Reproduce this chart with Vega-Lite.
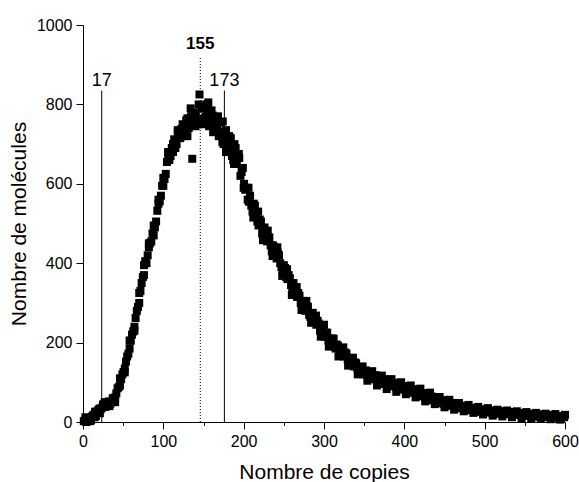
{
  "$schema": "https://vega.github.io/schema/vega-lite/v6.json",
  "width": 482,
  "height": 397,
  "autosize": {"type": "none"},
  "padding": {"left": 83, "top": 25, "right": 14, "bottom": 60},
  "background": "white",
  "config": {
    "view": {"stroke": null},
    "font": "Liberation Sans",
    "axis": {"grid": false, "domainColor": "black", "tickColor": "black", "labelColor": "black", "titleColor": "black", "labelFont": "Liberation Sans", "titleFont": "Liberation Sans", "labelFontSize": 16, "titleFontSize": 21, "titleFontWeight": "normal", "domainWidth": 1, "tickWidth": 1}
  },
  "datasets": {
    "pts": [
      {"c":1,"n":2},{"c":4,"n":0},{"c":7,"n":8},{"c":10,"n":5},{"c":13,"n":18},{"c":16,"n":15},{"c":19,"n":30},{"c":22,"n":32},{"c":25,"n":44},{"c":28,"n":38},
      {"c":31,"n":50},{"c":34,"n":46},{"c":37,"n":60},{"c":40,"n":62},{"c":43,"n":85},{"c":46,"n":92},{"c":49,"n":120},{"c":52,"n":135},{"c":55,"n":165},{"c":58,"n":185},
      {"c":61,"n":220},{"c":64,"n":240},{"c":67,"n":280},{"c":70,"n":300},{"c":73,"n":350},{"c":76,"n":395},{"c":79,"n":400},{"c":82,"n":440},{"c":85,"n":455},{"c":88,"n":495},
      {"c":91,"n":505},{"c":94,"n":550},{"c":97,"n":570},{"c":100,"n":615},{"c":103,"n":625},{"c":106,"n":675},{"c":109,"n":670},{"c":112,"n":700},{"c":115,"n":690},{"c":118,"n":730},
      {"c":121,"n":715},{"c":124,"n":750},{"c":127,"n":735},{"c":130,"n":765},{"c":133,"n":745},{"c":136,"n":663},{"c":137,"n":775},{"c":139,"n":770},{"c":142,"n":760},{"c":145,"n":825},
      {"c":148,"n":790},{"c":151,"n":765},{"c":154,"n":800},{"c":157,"n":745},{"c":160,"n":785},{"c":163,"n":740},{"c":166,"n":760},{"c":169,"n":720},{"c":172,"n":755},{"c":175,"n":700},
      {"c":178,"n":735},{"c":181,"n":680},{"c":184,"n":715},{"c":187,"n":660},{"c":190,"n":690},{"c":193,"n":670},{"c":196,"n":620},{"c":199,"n":640},{"c":202,"n":585},{"c":205,"n":560},
      {"c":208,"n":570},{"c":211,"n":530},{"c":214,"n":545},{"c":217,"n":505},{"c":220,"n":510},{"c":223,"n":475},{"c":226,"n":490},{"c":229,"n":455},{"c":232,"n":465},{"c":235,"n":430},
      {"c":238,"n":440},{"c":241,"n":412},{"c":244,"n":420},{"c":247,"n":390},{"c":250,"n":395},{"c":253,"n":365},{"c":256,"n":370},{"c":259,"n":345},{"c":262,"n":350},{"c":265,"n":320},
      {"c":268,"n":325},{"c":271,"n":300},{"c":274,"n":305},{"c":277,"n":280},{"c":280,"n":290},{"c":283,"n":265},{"c":286,"n":275},{"c":289,"n":250},{"c":292,"n":255},{"c":295,"n":230},
      {"c":298,"n":240},{"c":301,"n":215},{"c":304,"n":225},{"c":307,"n":200},{"c":310,"n":210},{"c":313,"n":190},{"c":316,"n":195},{"c":319,"n":175},{"c":322,"n":185},{"c":325,"n":165},
      {"c":328,"n":172},{"c":331,"n":150},{"c":334,"n":160},{"c":337,"n":140},{"c":340,"n":148},{"c":343,"n":128},{"c":346,"n":138},{"c":349,"n":120},{"c":352,"n":130},{"c":355,"n":114},
      {"c":358,"n":122},{"c":361,"n":108},{"c":364,"n":118},{"c":367,"n":102},{"c":370,"n":112},{"c":373,"n":96},{"c":376,"n":108},{"c":379,"n":92},{"c":382,"n":104},{"c":385,"n":90},
      {"c":388,"n":99},{"c":391,"n":85},{"c":394,"n":95},{"c":397,"n":82},{"c":400,"n":90},{"c":403,"n":78},{"c":406,"n":86},{"c":409,"n":74},{"c":412,"n":82},{"c":415,"n":70},
      {"c":418,"n":77},{"c":421,"n":65},{"c":424,"n":72},{"c":427,"n":60},{"c":430,"n":67},{"c":433,"n":55},{"c":436,"n":63},{"c":439,"n":52},{"c":442,"n":58},{"c":445,"n":47},
      {"c":448,"n":54},{"c":451,"n":44},{"c":454,"n":50},{"c":457,"n":41},{"c":460,"n":47},{"c":463,"n":38},{"c":466,"n":43},{"c":469,"n":35},{"c":472,"n":40},{"c":475,"n":33},
      {"c":478,"n":38},{"c":481,"n":30},{"c":484,"n":35},{"c":487,"n":28},{"c":490,"n":33},{"c":493,"n":26},{"c":496,"n":31},{"c":499,"n":25},{"c":502,"n":30},{"c":505,"n":24},
      {"c":508,"n":28},{"c":511,"n":22},{"c":514,"n":27},{"c":517,"n":21},{"c":520,"n":26},{"c":523,"n":20},{"c":526,"n":25},{"c":529,"n":20},{"c":532,"n":24},{"c":535,"n":19},
      {"c":538,"n":23},{"c":541,"n":18},{"c":544,"n":22},{"c":547,"n":17},{"c":550,"n":21},{"c":553,"n":16},{"c":556,"n":20},{"c":559,"n":15},{"c":562,"n":19},{"c":565,"n":14},
      {"c":568,"n":18},{"c":571,"n":13},{"c":574,"n":17},{"c":577,"n":13},{"c":580,"n":16},{"c":583,"n":12},{"c":586,"n":16},{"c":589,"n":12},{"c":592,"n":15},{"c":595,"n":11},{"c":598,"n":14},
      {"c":2.5,"n":4},{"c":5.5,"n":2},{"c":8.5,"n":10},{"c":11.5,"n":14},{"c":14.5,"n":12},{"c":17.5,"n":26},{"c":20.5,"n":34},{"c":23.5,"n":36},{"c":26.5,"n":45},{"c":29.5,"n":42},
      {"c":32.5,"n":52},{"c":35.5,"n":50},{"c":38.5,"n":58},{"c":41.5,"n":72},{"c":44.5,"n":88},{"c":47.5,"n":108},{"c":50.5,"n":126},{"c":53.5,"n":152},{"c":56.5,"n":172},{"c":59.5,"n":205},
      {"c":62.5,"n":228},{"c":65.5,"n":262},{"c":68.5,"n":290},{"c":71.5,"n":330},{"c":74.5,"n":365},{"c":77.5,"n":405},{"c":80.5,"n":420},{"c":83.5,"n":450},{"c":86.5,"n":475},{"c":89.5,"n":490},
      {"c":92.5,"n":532},{"c":95.5,"n":556},{"c":98.5,"n":595},{"c":101.5,"n":612},{"c":104.5,"n":655},{"c":107.5,"n":660},{"c":110.5,"n":690},{"c":113.5,"n":712},{"c":116.5,"n":700},{"c":119.5,"n":725},
      {"c":122.5,"n":738},{"c":125.5,"n":728},{"c":128.5,"n":760},{"c":131.5,"n":740},{"c":134.5,"n":770},{"c":137.5,"n":755},{"c":140.5,"n":780},{"c":143.5,"n":750},{"c":146.5,"n":760},{"c":149.5,"n":795},
      {"c":152.5,"n":770},{"c":155.5,"n":785},{"c":158.5,"n":760},{"c":161.5,"n":772},{"c":164.5,"n":735},{"c":167.5,"n":745},{"c":170.5,"n":730},{"c":173.5,"n":705},{"c":176.5,"n":720},{"c":179.5,"n":690},
      {"c":182.5,"n":700},{"c":185.5,"n":670},{"c":188.5,"n":700},{"c":191.5,"n":650},{"c":194.5,"n":665},{"c":197.5,"n":630},{"c":200.5,"n":600},{"c":203.5,"n":590},{"c":206.5,"n":555},{"c":209.5,"n":545},
      {"c":212.5,"n":550},{"c":215.5,"n":520},{"c":218.5,"n":495},{"c":221.5,"n":505},{"c":224.5,"n":480},{"c":227.5,"n":470},{"c":230.5,"n":460},{"c":233.5,"n":445},{"c":236.5,"n":445},{"c":239.5,"n":420},
      {"c":242.5,"n":425},{"c":245.5,"n":400},{"c":248.5,"n":382},{"c":251.5,"n":388},{"c":254.5,"n":360},{"c":257.5,"n":362},{"c":260.5,"n":340},{"c":263.5,"n":338},{"c":266.5,"n":315},{"c":269.5,"n":318},
      {"c":272.5,"n":300},{"c":275.5,"n":285},{"c":278.5,"n":292},{"c":281.5,"n":270},{"c":284.5,"n":265},{"c":287.5,"n":262},{"c":290.5,"n":245},{"c":293.5,"n":248},{"c":296.5,"n":235},{"c":299.5,"n":222},
      {"c":302.5,"n":225},{"c":305.5,"n":205},{"c":308.5,"n":210},{"c":311.5,"n":195},{"c":314.5,"n":185},{"c":317.5,"n":192},{"c":320.5,"n":178},{"c":323.5,"n":170},{"c":326.5,"n":175},{"c":329.5,"n":158},
      {"c":332.5,"n":158},{"c":335.5,"n":145},{"c":338.5,"n":150},{"c":341.5,"n":135},{"c":344.5,"n":135},{"c":347.5,"n":125},{"c":350.5,"n":128},{"c":353.5,"n":118},{"c":356.5,"n":124},{"c":359.5,"n":112},
      {"c":362.5,"n":115},{"c":365.5,"n":106},{"c":368.5,"n":110},{"c":371.5,"n":100},{"c":374.5,"n":106},{"c":377.5,"n":96},{"c":380.5,"n":102},{"c":383.5,"n":93},{"c":386.5,"n":98},{"c":389.5,"n":88},
      {"c":392.5,"n":94},{"c":395.5,"n":85},{"c":398.5,"n":90},{"c":401.5,"n":80},{"c":404.5,"n":86},{"c":407.5,"n":77},{"c":410.5,"n":82},{"c":413.5,"n":73},{"c":416.5,"n":78},{"c":419.5,"n":68},
      {"c":422.5,"n":73},{"c":425.5,"n":63},{"c":428.5,"n":68},{"c":431.5,"n":58},{"c":434.5,"n":64},{"c":437.5,"n":54},{"c":440.5,"n":60},{"c":443.5,"n":50},{"c":446.5,"n":55},{"c":449.5,"n":46},
      {"c":452.5,"n":52},{"c":455.5,"n":43},{"c":458.5,"n":48},{"c":461.5,"n":40},{"c":464.5,"n":44},{"c":467.5,"n":37},{"c":470.5,"n":41},{"c":473.5,"n":34},{"c":476.5,"n":39},{"c":479.5,"n":32},
      {"c":482.5,"n":36},{"c":485.5,"n":29},{"c":488.5,"n":34},{"c":491.5,"n":27},{"c":494.5,"n":32},{"c":497.5,"n":26},{"c":500.5,"n":30},{"c":503.5,"n":25},{"c":506.5,"n":29},{"c":509.5,"n":23},
      {"c":512.5,"n":28},{"c":515.5,"n":22},{"c":518.5,"n":27},{"c":521.5,"n":21},{"c":524.5,"n":26},{"c":527.5,"n":20},{"c":530.5,"n":25},{"c":533.5,"n":19},{"c":536.5,"n":24},{"c":539.5,"n":18},
      {"c":542.5,"n":23},{"c":545.5,"n":17},{"c":548.5,"n":22},{"c":551.5,"n":16},{"c":554.5,"n":21},{"c":557.5,"n":15},{"c":560.5,"n":20},{"c":563.5,"n":14},{"c":566.5,"n":19},{"c":569.5,"n":13},
      {"c":572.5,"n":18},{"c":575.5,"n":13},{"c":578.5,"n":17},{"c":581.5,"n":12},{"c":584.5,"n":16},{"c":587.5,"n":11},{"c":590.5,"n":15},{"c":593.5,"n":11},{"c":596.5,"n":14},{"c":599,"n":12},
      {"c":3,"n":12},{"c":9,"n":2},{"c":15,"n":26},{"c":21,"n":22},{"c":27,"n":50},{"c":33,"n":40},
      {"c":40,"n":50},{"c":46,"n":110},{"c":52,"n":125},{"c":58,"n":205},{"c":64,"n":230},{"c":70,"n":325},{"c":76,"n":370},{"c":82,"n":450},{"c":88,"n":470},{"c":94,"n":560},
      {"c":100,"n":595},{"c":106,"n":680},{"c":112,"n":680},{"c":118,"n":735},{"c":124,"n":720},
      {"c":130,"n":720},{"c":134,"n":790},{"c":140,"n":745},{"c":144,"n":800},{"c":150,"n":750},{"c":156,"n":805},{"c":162,"n":730},{"c":168,"n":770},{"c":174,"n":757},{"c":178,"n":680},
      {"c":182,"n":720},{"c":188,"n":650},{"c":194,"n":675},{"c":200,"n":590},{"c":206,"n":590},{"c":212,"n":515},{"c":218,"n":530},{"c":224,"n":458},{"c":230,"n":482},{"c":236,"n":418},
      {"c":242,"n":440},{"c":248,"n":368},{"c":254,"n":385},{"c":260,"n":320},{"c":266,"n":340},{"c":272,"n":282},{"c":278,"n":305},{"c":284,"n":250},{"c":290,"n":268},{"c":296,"n":215},
      {"c":300,"n":245},{"c":306,"n":190},{"c":312,"n":210},{"c":318,"n":165},{"c":324,"n":188},{"c":330,"n":142},{"c":336,"n":162},{"c":342,"n":120},{"c":348,"n":140},{"c":354,"n":104},
      {"c":360,"n":128},{"c":366,"n":92},{"c":372,"n":117},{"c":378,"n":83},{"c":384,"n":108},{"c":390,"n":76},{"c":396,"n":100},{"c":402,"n":70},{"c":408,"n":92},{"c":414,"n":62},
      {"c":420,"n":84},{"c":426,"n":52},{"c":432,"n":74},{"c":438,"n":45},{"c":444,"n":63},{"c":450,"n":37},{"c":456,"n":56},{"c":462,"n":31},{"c":468,"n":48},{"c":474,"n":27},
      {"c":480,"n":43},{"c":486,"n":23},{"c":492,"n":38},{"c":498,"n":19},{"c":504,"n":35},{"c":510,"n":16},{"c":516,"n":31},{"c":522,"n":14},{"c":528,"n":29},{"c":534,"n":12},
      {"c":540,"n":27},{"c":546,"n":10},{"c":552,"n":25},{"c":558,"n":9},{"c":564,"n":23},{"c":570,"n":8},{"c":576,"n":21},{"c":582,"n":7},{"c":588,"n":20},{"c":594,"n":6},{"c":600,"n":18}
    ],
    "solid": [
      {"c": 23.3, "base": 0, "top": 835, "label": "17", "ly": 846},
      {"c": 176, "base": 0, "top": 835, "label": "173", "ly": 846}
    ],
    "dotted": [
      {"c": 146, "base": 0, "top": 921, "label": "155", "ly": 939}
    ]
  },
  "layer": [
    {
      "data": {"name": "pts"},
      "mark": {"type": "point", "shape": "square", "filled": true, "color": "black", "opacity": 1, "size": 64},
      "encoding": {
        "x": {"field": "c", "type": "quantitative", "scale": {"domain": [0, 600], "nice": false},
          "axis": {"title": "Nombre de copies", "values": [0,50,100,150,200,250,300,350,400,450,500,550,600],
            "labelExpr": "datum.value % 100 === 0 ? datum.label : ''",
            "tickSize": {"expr": "datum.value % 100 === 0 ? 7 : 3.5"},
            "labelPadding": 4, "titlePadding": 12, "labelFlush": false}},
        "y": {"field": "n", "type": "quantitative", "scale": {"domain": [0, 1000], "nice": false},
          "axis": {"title": "Nombre de molécules", "format": "d", "values": [0,100,200,300,400,500,600,700,800,900,1000],
            "labelExpr": "datum.value % 200 === 0 ? datum.label : ''",
            "tickSize": {"expr": "datum.value % 200 === 0 ? 7 : 3.5"},
            "labelPadding": 4, "titlePadding": 7, "labelFlush": false}}
      }
    },
    {
      "data": {"name": "solid"},
      "mark": {"type": "rule", "color": "black", "strokeWidth": 1},
      "encoding": {
        "x": {"field": "c", "type": "quantitative"},
        "y": {"field": "base", "type": "quantitative"},
        "y2": {"field": "top"}
      }
    },
    {
      "data": {"name": "dotted"},
      "mark": {"type": "rule", "color": "black", "strokeWidth": 1, "strokeDash": [1, 2]},
      "encoding": {
        "x": {"field": "c", "type": "quantitative"},
        "y": {"field": "base", "type": "quantitative"},
        "y2": {"field": "top"}
      }
    },
    {
      "data": {"name": "solid"},
      "mark": {"type": "text", "fontSize": 18, "color": "black", "baseline": "alphabetic", "align": "center"},
      "encoding": {
        "x": {"field": "c", "type": "quantitative"},
        "y": {"field": "ly", "type": "quantitative"},
        "text": {"field": "label"}
      }
    },
    {
      "data": {"name": "dotted"},
      "mark": {"type": "text", "fontSize": 17, "fontWeight": "bold", "color": "black", "baseline": "alphabetic", "align": "center"},
      "encoding": {
        "x": {"field": "c", "type": "quantitative"},
        "y": {"field": "ly", "type": "quantitative"},
        "text": {"field": "label"}
      }
    }
  ]
}
